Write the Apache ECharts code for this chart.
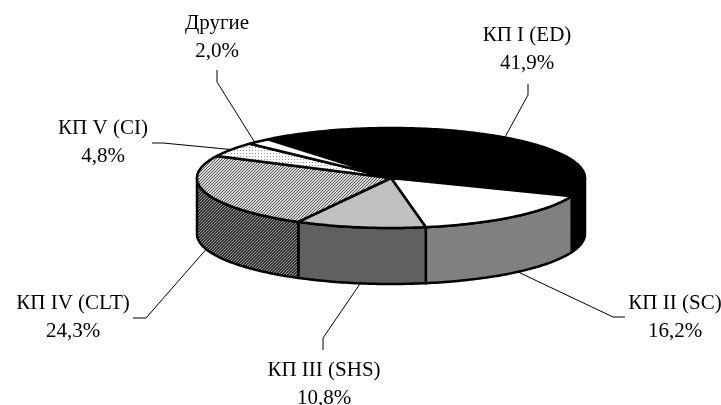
<!DOCTYPE html>
<html>
<head>
<meta charset="utf-8">
<style>html,body{margin:0;padding:0;background:#fff}#main{width:721px;height:405px}</style>
<script src="https://cdn.jsdelivr.net/npm/echarts@6/dist/echarts.min.js"></script>
</head>
<body>
<div id="main"></div>
<script>
var categories = ['КП I (ED)', 'КП II (SC)', 'КП III (SHS)', 'КП IV (CLT)', 'КП V (CI)', 'Другие'];
var shares = [41.9, 16.2, 10.8, 24.3, 4.8, 2.0];

// where the label text and the leader elbows sit
var labelPos = [[527, 49], [675, 317], [324, 384], [73, 317], [103, 142], [217, 37]];
var elbows = [
    [[528, 84], [528, 95]],
    [[625, 317], [613, 317]],
    [[323, 350], [323, 338]],
    [[133, 318], [146, 318]],
    [[152, 143], [163, 143]],
    [[217, 70], [217, 82]]
];
var leaderNudge = [0, -1.3, 0, 0, 0, -1.5]; // degrees

// pie geometry
var cx = 391, cy = 178, rx = 194, ry = 50, depth = 56, startDeg = -39.5;

// small tiled fills, like the office hatch patterns
function tile(size, bg, fg, cells) {
    var c = document.createElement('canvas');
    c.width = c.height = size;
    var g = c.getContext('2d');
    g.fillStyle = bg;
    g.fillRect(0, 0, size, size);
    g.fillStyle = fg;
    cells.forEach(function (p) { g.fillRect(p[0], p[1], 1, 1); });
    return { image: c, repeat: 'repeat' };
}
var diag = [[0, 2], [1, 1], [2, 0]];
var topFills = ['#000', '#fff', '#c0c0c0', tile(3, '#d8d8d8', '#555', diag),
    tile(3, '#fff', '#999', [[0, 0]]), '#fff'];
var sideFills = ['#000', '#808080', '#606060', tile(3, '#333', '#999', diag), '#000', '#000'];

function pt(deg, dy) {
    var a = deg * Math.PI / 180;
    return [cx + rx * Math.sin(a), cy - ry * Math.cos(a) + (dy || 0)];
}
function arc(from, to, dy) {
    var pts = [], n = Math.max(2, Math.ceil(Math.abs(to - from)));
    for (var i = 0; i <= n; i++) pts.push(pt(from + (to - from) * i / n, dy));
    return pts;
}

function renderSlice(params, api) {
    var i = params.dataIndex;
    var total = shares.reduce(function (a, b) { return a + b; }, 0);
    var before = 0;
    for (var k = 0; k < i; k++) before += shares[k];
    var from = startDeg + before / total * 360;
    var to = from + api.value(0) / total * 360;
    var mid = (from + to) / 2;
    var children = [];

    // side wall is only seen on the front half
    var a = Math.max(from, 90), b = Math.min(to, 270);
    if (a < b) {
        children.push({
            type: 'polygon',
            shape: { points: arc(a, b, 0).concat(arc(b, a, depth)) },
            style: { fill: sideFills[i], stroke: '#000', lineWidth: 2.5, lineJoin: 'round' }
        });
    }
    children.push({
        type: 'polygon',
        shape: { points: [[cx, cy]].concat(arc(from, to, 0)) },
        style: { fill: topFills[i], stroke: '#000', lineWidth: 2.5, lineJoin: 'round' }
    });

    // leader from the slice edge to the label
    var front = mid > 90 && mid < 270;
    var anchor = pt(mid + leaderNudge[i], front ? depth : 0);
    children.push({
        type: 'polyline',
        shape: { points: [elbows[i][0], elbows[i][1], anchor] },
        style: { fill: null, stroke: '#000', lineWidth: 1 }
    });
    children.push({
        type: 'text',
        style: {
            x: labelPos[i][0], y: labelPos[i][1],
            text: categories[i] + '\n' + api.value(0).toFixed(1).replace('.', ',') + '%',
            align: 'center', verticalAlign: 'middle', lineHeight: 28,
            font: '21px "Liberation Serif"', fill: '#000'
        }
    });
    return { type: 'group', children: children };
}

var myChart = echarts.init(document.getElementById('main'));
var option = {
    animation: false,
    backgroundColor: '#fff',
    series: [{
        type: 'custom',
        coordinateSystem: 'none',
        renderItem: renderSlice,
        data: shares.map(function (v) { return [v]; })
    }]
};
myChart.setOption(option);
</script>
</body>
</html>
